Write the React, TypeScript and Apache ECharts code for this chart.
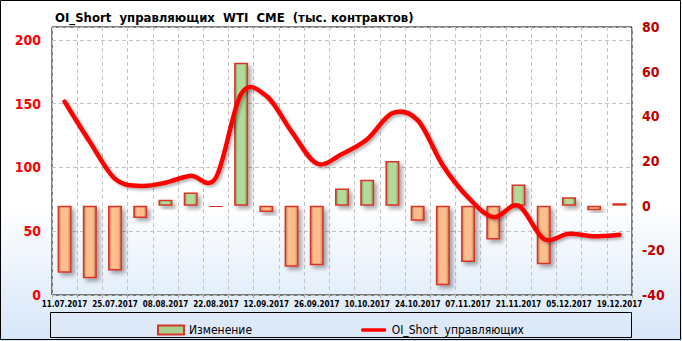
import React, { useEffect, useRef } from 'react';
import * as echarts from 'echarts';

const categories = [
  '11.07.2017', '18.07.2017', '25.07.2017', '01.08.2017', '08.08.2017', '15.08.2017',
  '22.08.2017', '29.08.2017', '12.09.2017', '19.09.2017', '26.09.2017', '03.10.2017',
  '10.10.2017', '17.10.2017', '24.10.2017', '31.10.2017', '07.11.2017', '14.11.2017',
  '21.11.2017', '28.11.2017', '05.12.2017', '12.12.2017', '19.12.2017',
];
const changeValues = [
  -30, -32.5, -29, -5.5, 2.7, 5.9, -0.8, 64, -2.8, -27.4, -26.7, 7.7,
  11.6, 20, -6.7, -35.6, -25.2, -15.1, 9.5, -26.2, 3.8, -2.1, 1.1,
];
const oiShortValues = [
  151.5, 120, 91, 85.5, 88, 93.5, 92, 157.5, 156, 128, 103, 110.5,
  122, 142.5, 137, 101.5, 76.5, 61, 70, 44, 48, 46, 47.2,
];
const leftTicks = { min: 0, max: 210, interval: 50 };
const rightTicks = { min: -40, max: 80, interval: 20 };

const TITLE = 'OI_Short  управляющих  WTI  CME  (тыс. контрактов)';
const BAR_NAME = 'Изменение';
const LINE_NAME = 'OI_Short  управляющих';
const FONT = '"DejaVu Sans Condensed", "DejaVu Sans", sans-serif';

const hGrad = (edge: string, mid: string) =>
  new echarts.graphic.LinearGradient(0, 0, 1, 0, [
    { offset: 0, color: edge },
    { offset: 0.25, color: mid },
    { offset: 0.75, color: mid },
    { offset: 1, color: edge },
  ]);

// Catmull-Rom spline through the points given in pixel space (Excel-like smoothing)
function splinePath(pts: number[][]): string {
  if (!pts.length) return '';
  let d = `M${pts[0][0]},${pts[0][1]}`;
  for (let i = 0; i < pts.length - 1; i++) {
    const p0 = pts[i - 1] || pts[i];
    const p1 = pts[i];
    const p2 = pts[i + 1];
    const p3 = pts[i + 2] || pts[i + 1];
    const t = 1 / 6;
    const c1x = p1[0] + (p2[0] - p0[0]) * t;
    const c1y = p1[1] + (p2[1] - p0[1]) * t;
    const c2x = p2[0] - (p3[0] - p1[0]) * t;
    const c2y = p2[1] - (p3[1] - p1[1]) * t;
    d += ` C${c1x},${c1y} ${c2x},${c2y} ${p2[0]},${p2[1]}`;
  }
  return d;
}

export default function App() {
  const ref = useRef<HTMLDivElement>(null);
  useEffect(() => {
    if (!ref.current) return;
    const chart = echarts.init(ref.current, undefined, { renderer: 'svg' });
    const shadow = {
      shadowColor: 'rgba(0,0,0,0.35)',
      shadowBlur: 4,
      shadowOffsetX: 3,
      shadowOffsetY: 3,
    };
    const greenStyle = {
      color: hGrad('#7a9f62', '#b3da98'),
      borderColor: '#d8342a',
      borderWidth: 1.5,
      ...shadow,
    };
    const orangeStyle = {
      color: hGrad('#c07c50', '#fdbd8d'),
      borderColor: '#d8342a',
      borderWidth: 1.5,
      ...shadow,
    };
    chart.setOption({
      animation: false,
      backgroundColor: new echarts.graphic.LinearGradient(0, 0, 0, 1, [
        { offset: 0, color: '#ffffff' },
        { offset: 0.6, color: '#ffffff' },
        { offset: 1, color: '#d6e6f8' },
      ]),
      title: {
        text: TITLE,
        left: 50,
        top: 6,
        textStyle: { fontFamily: FONT, fontWeight: 'bold', fontSize: 13, color: '#000' },
      },
      graphic: [
        {
          type: 'rect',
          shape: { x: 0.5, y: 0.5, width: 680, height: 339 },
          style: { fill: 'none', stroke: '#000', lineWidth: 1 },
          silent: true,
          z: -1,
        },
        {
          type: 'rect',
          shape: { x: 50.5, y: 312.5, width: 581, height: 25 },
          style: { fill: '#dde9f7', stroke: '#000', lineWidth: 1 },
          silent: true,
          z: -1,
        },
      ],
      legend: {
        left: 152,
        top: 319,
        itemGap: 109,
        itemWidth: 26,
        itemHeight: 9,
        textStyle: { fontFamily: FONT, fontSize: 12, color: '#000' },
        data: [
          {
            name: BAR_NAME,
            icon: 'rect',
            itemStyle: { color: '#a9cf8c', borderColor: '#d8342a', borderWidth: 2, shadowBlur: 0 },
          },
          {
            name: LINE_NAME,
            icon: 'path://M0,0 M28,10 M1.5,3 L26.5,3 Q28,3 28,5 Q28,7 26.5,7 L1.5,7 Q0,7 0,5 Q0,3 1.5,3 Z',
            itemStyle: { color: '#ff0000', borderWidth: 0, shadowBlur: 0 },
          },
        ],
      },
      grid: {
        left: 52,
        right: 50,
        top: 27,
        bottom: 46,
        show: true,
        borderColor: '#000',
        borderWidth: 1,
        backgroundColor: 'transparent',
      },
      xAxis: {
        type: 'category',
        data: categories,
        boundaryGap: true,
        axisLine: { show: false },
        axisTick: { show: true, interval: 0, length: 3, lineStyle: { color: '#aaa' } },
        axisLabel: {
          interval: 1,
          margin: 5,
          fontFamily: FONT,
          fontWeight: 'bold',
          fontSize: 8,
          color: '#000',
        },
        splitLine: {
          show: true,
          interval: 0,
          lineStyle: { color: '#c4c4c4', type: [4, 3], width: 1 },
        },
      },
      yAxis: [
        {
          type: 'value',
          position: 'left',
          min: leftTicks.min,
          max: leftTicks.max,
          interval: leftTicks.interval,
          axisLine: { show: false },
          axisTick: { show: false },
          axisLabel: {
            showMaxLabel: false,
            margin: 11,
            fontFamily: FONT,
            fontWeight: 'bold',
            fontSize: 14,
            color: '#ff0000',
          },
          splitLine: { show: true, lineStyle: { color: '#c4c4c4', type: [4, 3], width: 1 } },
        },
        {
          type: 'value',
          position: 'right',
          min: rightTicks.min,
          max: rightTicks.max,
          interval: rightTicks.interval,
          axisLine: { show: false },
          axisTick: { show: false },
          axisLabel: {
            margin: 10,
            fontFamily: FONT,
            fontWeight: 'bold',
            fontSize: 14,
            color: '#c00000',
          },
          splitLine: { show: false },
        },
      ],
      series: [
        {
          name: BAR_NAME,
          type: 'bar',
          yAxisIndex: 1,
          barWidth: 14,
          data: changeValues.map((v) => ({ value: v, itemStyle: v >= 0 ? greenStyle : orangeStyle })),
          z: 2,
        },
        {
          name: LINE_NAME,
          type: 'custom',
          yAxisIndex: 0,
          color: '#ff0000',
          data: oiShortValues.map((v, i) => [i, v]),
          encode: { x: 0, y: 1 },
          z: 3,
          renderItem: (params: any, api: any) => {
            if (params.dataIndex !== 0) return null;
            const pts = oiShortValues.map((v, i) => api.coord([i, v]));
            return {
              type: 'path',
              shape: { pathData: splinePath(pts) },
              style: {
                fill: 'none',
                stroke: '#ff0000',
                lineWidth: 4.5,
                lineCap: 'round',
                lineJoin: 'round',
                shadowColor: 'rgba(0,0,0,0.3)',
                shadowBlur: 3,
                shadowOffsetX: 2,
                shadowOffsetY: 2,
              },
            };
          },
        },
      ],
    });
    return () => chart.dispose();
  }, []);
  return (
    <div
      ref={ref}
      style={{ position: 'fixed', left: 0, top: 0, width: 682, height: 341 }}
    />
  );
}
